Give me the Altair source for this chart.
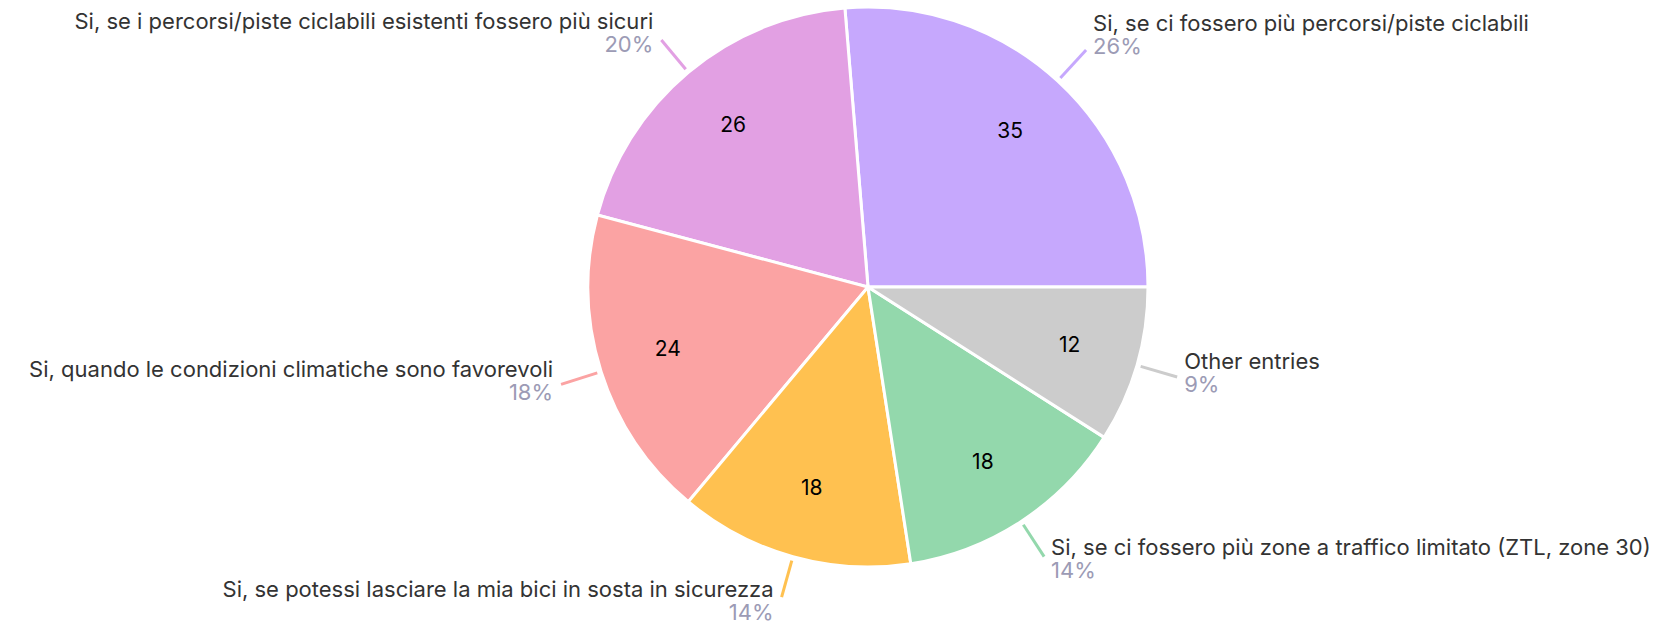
import altair as alt
import pandas as pd

labels = [
    "Si, se ci fossero più percorsi/piste ciclabili",
    "Si, se i percorsi/piste ciclabili esistenti fossero più sicuri",
    "Si, quando le condizioni climatiche sono favorevoli",
    "Si, se potessi lasciare la mia bici in sosta in sicurezza",
    "Si, se ci fossero più zone a traffico limitato (ZTL, zone 30)",
    "Other entries",
]
values = [35, 26, 24, 18, 18, 12]
colors = ["#c6a8fd", "#e2a0e3", "#fba3a3", "#ffc150", "#93d8ac", "#cccccc"]

df = pd.DataFrame({"idx": list(range(len(labels))), "label": labels, "value": values})

CX, CY = 860, 279
R = 280
FONT = "Inter"
FS = 22

base = (
    alt.Chart(df)
    .transform_joinaggregate(total="sum(value)")
    .transform_window(cum="sum(value)", sort=[alt.SortField("idx")], frame=[None, 0])
    .transform_calculate(
        a1="PI/2 - 2*PI*(datum.cum - datum.value)/datum.total",
        a0="PI/2 - 2*PI*datum.cum/datum.total",
    )
    .transform_calculate(mid="(datum.a0 + datum.a1)/2")
    .transform_calculate(
        pct="format(round(datum.value/datum.total*100), 'd') + '%'",
        lx1=f"{CX} + {R + 4}*sin(datum.mid)",
        ly1=f"{CY} - {R + 4}*cos(datum.mid)",
        lx2=f"{CX} + {R + 42}*sin(datum.mid)",
        ly2=f"{CY} - {R + 42}*cos(datum.mid)",
        ix=f"{CX} + 210*sin(datum.mid)",
        iy=f"{CY} - 210*cos(datum.mid)",
    )
    .transform_calculate(
        tx="sin(datum.mid) >= 0 ? datum.lx2 + 7 : datum.lx2 - 8",
        py="max(datum.ly2 + 5 - 11*cos(datum.mid), 37)",
    )
    .transform_calculate(my="datum.py - 23")
)

color = alt.Color("label:N", scale=alt.Scale(domain=labels, range=colors), legend=None)

arcs = base.mark_arc(outerRadius=R, stroke="white", strokeWidth=3).encode(
    theta=alt.Theta("a0:Q", scale=None),
    theta2="a1:Q",
    color=color,
    x=alt.value(CX),
    y=alt.value(CY),
)

leaders = base.mark_rule(strokeWidth=3).encode(
    x=alt.X("lx1:Q", scale=None, axis=None),
    y=alt.Y("ly1:Q", scale=None, axis=None),
    x2="lx2:Q",
    y2="ly2:Q",
    color=color,
)

inner = base.mark_text(font=FONT, fontSize=21, color="#000000", baseline="middle", align="center").encode(
    x=alt.X("ix:Q", scale=None, axis=None),
    y=alt.Y("iy:Q", scale=None, axis=None),
    text="value:Q",
)

def side_labels(cond, align):
    sub = base.transform_filter(cond)
    main = sub.mark_text(font=FONT, fontSize=FS, color="#333333", baseline="middle", align=align).encode(
        x=alt.X("tx:Q", scale=None, axis=None),
        y=alt.Y("my:Q", scale=None, axis=None),
        text="label:N",
    )
    pct = sub.mark_text(font=FONT, fontSize=FS, color="#9c9bb5", baseline="middle", align=align).encode(
        x=alt.X("tx:Q", scale=None, axis=None),
        y=alt.Y("py:Q", scale=None, axis=None),
        text="pct:N",
    )
    return main + pct

right = side_labels("sin(datum.mid) >= 0", "left")
left = side_labels("sin(datum.mid) < 0", "right")

chart = (
    alt.layer(arcs, leaders, inner, right, left)
    .properties(width=1648, height=616, padding=0, autosize=alt.AutoSizeParams(type="none"))
    .configure_view(stroke=None)
)

chart.save("out.html", embed_options={"renderer": "svg", "actions": False})
